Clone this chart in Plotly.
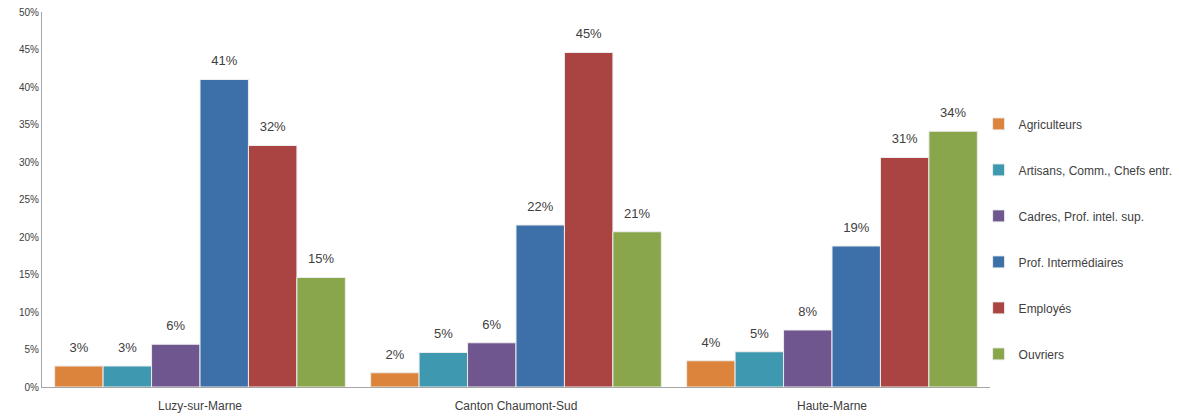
import plotly.graph_objects as go

# Territories (x categories)
territories = ["Luzy-sur-Marne", "Canton Chaumont-Sud", "Haute-Marne"]

# Socio-professional categories (series) and their colours
categories = [
    "Agriculteurs",
    "Artisans, Comm., Chefs entr.",
    "Cadres, Prof. intel. sup.",
    "Prof. Intermédiaires",
    "Employés",
    "Ouvriers",
]
colors = ["#DD843C", "#3D98B0", "#70568F", "#3D70A8", "#A94442", "#8AA64B"]

# Share of the active population (%) per territory
agriculteurs = [2.8, 1.9, 3.5]
artisans = [2.8, 4.6, 4.7]
cadres = [5.7, 5.9, 7.6]
prof_intermediaires = [41.0, 21.6, 18.8]
employes = [32.2, 44.6, 30.6]
ouvriers = [14.6, 20.7, 34.1]

series = [agriculteurs, artisans, cadres, prof_intermediaires, employes, ouvriers]

y_ticks = [0, 5, 10, 15, 20, 25, 30, 35, 40, 45, 50]
y_tick_labels = [f"{t}%" for t in y_ticks]

FONT = "Liberation Sans"

fig = go.Figure()
for i, (name, vals, col) in enumerate(zip(categories, series, colors)):
    fig.add_trace(go.Bar(
        name=name,
        x=territories,
        y=vals,
        offsetgroup=str(i),
        marker=dict(color=col, line=dict(color="#EDEDED", width=1)),
        legendgroup=f"g{i}",
    ))

# Value labels: text placed above an invisible marker sitting on each bar top
for i, vals in enumerate(series):
    fig.add_trace(go.Scatter(
        x=territories,
        y=vals,
        offsetgroup=str(i),
        mode="markers+text",
        marker=dict(size=16, color="rgba(0,0,0,0)"),
        text=[f"{v:.0f}%" for v in vals],
        textposition="top center",
        textfont=dict(family=FONT, size=13, color="#404040"),
        cliponaxis=False,
        showlegend=False,
        hoverinfo="skip",
    ))

fig.update_layout(
    width=1179,
    height=418,
    margin=dict(l=42, r=189, t=12, b=31, autoexpand=False),
    paper_bgcolor="white",
    plot_bgcolor="white",
    barmode="group",
    scattermode="group",
    bargap=0.08,
    bargroupgap=0,
    font=dict(family=FONT, color="#404040"),
    legend=dict(
        x=0.988,
        xanchor="left",
        y=0.395,
        yanchor="middle",
        font=dict(family=FONT, size=12, color="#404040"),
        tracegroupgap=27,
        itemwidth=30,
    ),
    showlegend=True,
)

fig.update_xaxes(
    showline=True,
    linecolor="#A6A6A6",
    linewidth=1,
    ticks="",
    ticklabelstandoff=8,
    tickfont=dict(family=FONT, size=12, color="#404040"),
    showgrid=False,
)
fig.update_yaxes(
    range=[0, 50],
    tickvals=y_ticks,
    ticktext=y_tick_labels,
    showline=True,
    linecolor="#A6A6A6",
    linewidth=1,
    ticks="",
    showgrid=False,
    zeroline=False,
    tickfont=dict(family=FONT, size=10, color="#404040"),
)

fig.write_html("out.html")
